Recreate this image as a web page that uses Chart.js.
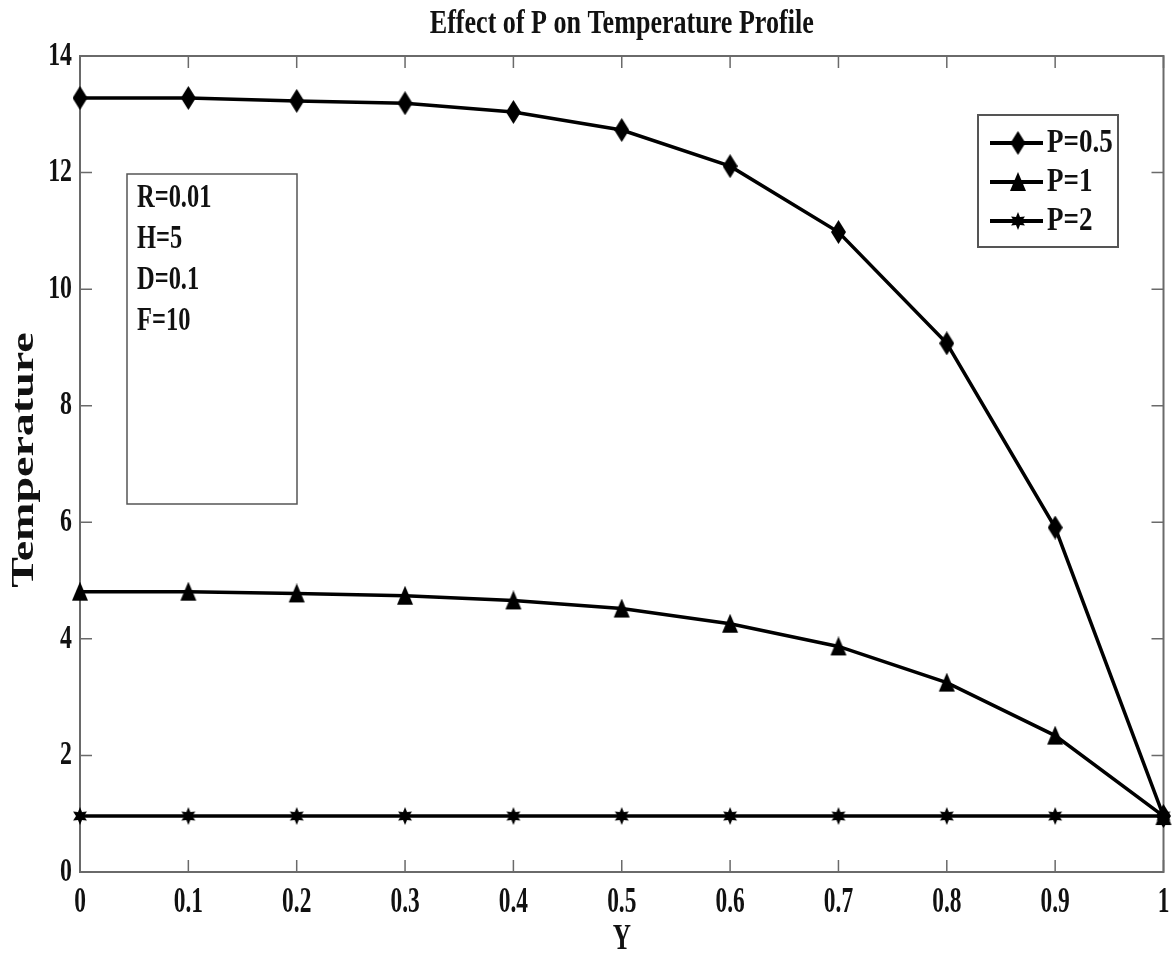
<!DOCTYPE html>
<html>
<head>
<meta charset="utf-8">
<title>Effect of P on Temperature Profile</title>
<script src="https://cdn.jsdelivr.net/npm/chart.js@4"></script>
<style>
  html, body { margin: 0; padding: 0; background: #fff; }
  #wrap { width: 1175px; height: 962px; }
</style>
</head>
<body>
<div id="wrap"><canvas id="tempChart" width="1175" height="962"></canvas></div>
<script>
// ---- data ----
const yPositions = [0, 0.1, 0.2, 0.3, 0.4, 0.5, 0.6, 0.7, 0.8, 0.9, 1];
const tempP05 = [13.28, 13.28, 13.23, 13.19, 13.04, 12.73, 12.11, 10.98, 9.07, 5.91, 0.96];
const tempP1  = [4.81, 4.81, 4.78, 4.74, 4.66, 4.52, 4.26, 3.87, 3.25, 2.34, 0.96];
const tempP2  = [0.96, 0.96, 0.96, 0.96, 0.96, 0.96, 0.96, 0.96, 0.96, 0.96, 0.96];
const seriesLabels = ['P=0.5', 'P=1', 'P=2'];
const paramLines = ['R=0.01', 'H=5', 'D=0.1', 'F=10'];
const xTicks = [0, 0.1, 0.2, 0.3, 0.4, 0.5, 0.6, 0.7, 0.8, 0.9, 1];
const yTicks = [0, 2, 4, 6, 8, 10, 12, 14];

const FONT = '"Liberation Serif", "DejaVu Serif", serif';

// ---- marker images ----
function makeMarker(shape) {
    const c = document.createElement('canvas');
    const g = c.getContext('2d');
    if (shape === 'diamond') {
        c.width = 15; c.height = 24;
        g.beginPath();
        g.moveTo(7.5, 0); g.lineTo(15, 12); g.lineTo(7.5, 24); g.lineTo(0, 12);
    } else if (shape === 'triangle') {
        c.width = 18; c.height = 20;
        g.beginPath();
        g.moveTo(9, 0); g.lineTo(17, 19); g.lineTo(1, 19);
    } else {
        c.width = 16; c.height = 18;
        g.beginPath();
        for (let i = 0; i < 12; i++) {
            const a = -Math.PI / 2 + i * Math.PI / 6;
            const r = i % 2 === 0 ? 1 : 0.5;
            const px = 8 + Math.cos(a) * 8 * r;
            const py = 9 + Math.sin(a) * 9 * r;
            if (i === 0) g.moveTo(px, py); else g.lineTo(px, py);
        }
    }
    g.closePath();
    g.fillStyle = '#000';
    g.fill();
    return c;
}

const markers = [makeMarker('diamond'), makeMarker('triangle'), makeMarker('star')];

function toPoints(vals) {
    return vals.map((v, i) => ({ x: yPositions[i], y: v }));
}

// narrow bold serif text, squeezed horizontally
function condensedText(ctx, text, x, y, size, sx, align) {
    ctx.save();
    ctx.translate(x, y);
    ctx.scale(sx, 1);
    ctx.font = `bold ${size}px ${FONT}`;
    ctx.textAlign = align;
    ctx.textBaseline = 'middle';
    ctx.fillStyle = '#111';
    ctx.fillText(text, 0, 0);
    ctx.restore();
}

// ---- axes box, ticks, labels, legend, parameter box ----
const matlabFrame = {
    id: 'matlabFrame',
    beforeDatasetsDraw(chart) {
        const { ctx, chartArea: a, scales: { x, y } } = chart;
        ctx.save();
        ctx.strokeStyle = '#6a6a6a';
        ctx.lineWidth = 2;
        ctx.strokeRect(a.left, a.top, a.right - a.left, a.bottom - a.top);

        // inward ticks on all four sides
        ctx.lineWidth = 1.5;
        ctx.beginPath();
        xTicks.forEach(t => {
            const px = x.getPixelForValue(t);
            ctx.moveTo(px, a.bottom); ctx.lineTo(px, a.bottom - 12);
            ctx.moveTo(px, a.top); ctx.lineTo(px, a.top + 12);
        });
        yTicks.forEach(t => {
            const py = y.getPixelForValue(t);
            ctx.moveTo(a.left, py); ctx.lineTo(a.left + 12, py);
            ctx.moveTo(a.right, py); ctx.lineTo(a.right - 12, py);
        });
        ctx.stroke();

        xTicks.forEach(t => {
            condensedText(ctx, String(t), x.getPixelForValue(t), a.bottom + 31, 36, 0.65, 'center');
        });
        yTicks.forEach(t => {
            condensedText(ctx, String(t), a.left - 8, y.getPixelForValue(t), 34, 0.7, 'right');
        });

        // parameter box
        ctx.strokeStyle = '#555';
        ctx.lineWidth = 1.5;
        ctx.strokeRect(127, 174, 170, 330);
        paramLines.forEach((s, i) => {
            condensedText(ctx, s, 137, 198 + i * 41, 34, 0.72, 'left');
        });
        ctx.restore();
    },
    afterDraw(chart) {
        const { ctx, chartArea: a } = chart;
        ctx.save();
        // title and axis titles
        condensedText(ctx, 'Effect of P on Temperature Profile', (a.left + a.right) / 2, 24, 33, 0.79, 'center');
        condensedText(ctx, 'Y', (a.left + a.right) / 2, 940, 36, 0.7, 'center');
        ctx.translate(25, 460);
        ctx.rotate(-Math.PI / 2);
        ctx.scale(1, 0.67);
        ctx.font = `bold 46px ${FONT}`;
        ctx.textAlign = 'center';
        ctx.textBaseline = 'middle';
        ctx.fillStyle = '#111';
        ctx.fillText('Temperature', 0, 0);
        ctx.restore();

        // legend
        ctx.save();
        ctx.fillStyle = '#fff';
        ctx.fillRect(978, 115, 140, 132);
        ctx.strokeStyle = '#555';
        ctx.lineWidth = 2;
        ctx.strokeRect(978, 115, 140, 132);
        chart.data.datasets.forEach((ds, i) => {
            const ly = 143 + i * 39;
            ctx.strokeStyle = '#000';
            ctx.lineWidth = 4;
            ctx.beginPath();
            ctx.moveTo(990, ly); ctx.lineTo(1043, ly);
            ctx.stroke();
            const m = ds.pointStyle;
            ctx.drawImage(m, 1018 - m.width / 2, ly - m.height / 2);
            condensedText(ctx, ds.label, 1047, ly, 33, 0.82, 'left');
        });
        ctx.restore();
    }
};

const seriesData = [tempP05, tempP1, tempP2];

new Chart(document.getElementById('tempChart'), {
    type: 'line',
    data: {
        datasets: seriesData.map((vals, i) => ({
            label: seriesLabels[i],
            data: toPoints(vals),
            borderColor: '#000',
            backgroundColor: '#000',
            borderWidth: 3.5,
            pointStyle: markers[i],
            pointRadius: 8,
            tension: 0,
            clip: false
        }))
    },
    options: {
        responsive: false,
        animation: false,
        devicePixelRatio: 1,
        layout: { padding: { left: 80, right: 7, top: 56, bottom: 90 } },
        events: [],
        plugins: {
            legend: { display: false },
            tooltip: { enabled: false },
            title: { display: false }
        },
        scales: {
            x: { type: 'linear', min: 0, max: 1, display: false },
            y: { type: 'linear', min: 0, max: 14, display: false }
        }
    },
    plugins: [matlabFrame]
});
</script>
</body>
</html>
